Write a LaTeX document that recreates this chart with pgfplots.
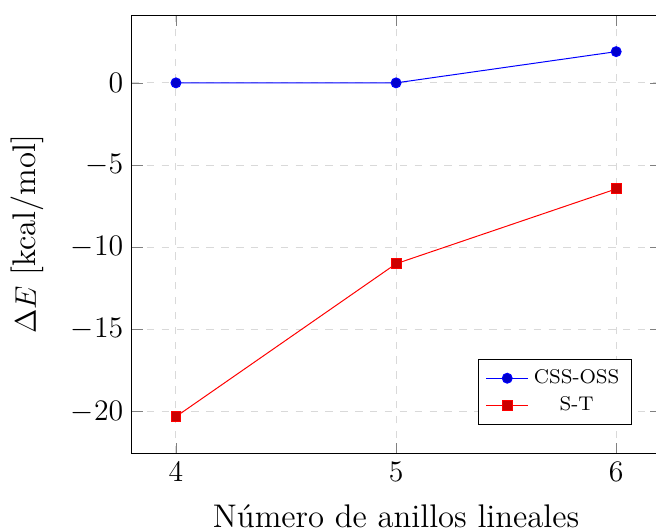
\documentclass[border=0pt]{standalone}
\usepackage{pgfplots}
\pgfplotsset{compat=1.18}
\begin{document}
\begin{tikzpicture}
\begin{axis}[
  scale only axis,
  width=213pt, height=176.6pt,
  xmin=3.8, xmax=6.2, ymin=-22.52, ymax=4.12,
  xtick={4,5,6}, ytick={-20,-15,-10,-5,0},
  grid=major,
  major grid style={dashed, gray!30},
  tick label style={font=\fontsize{13.2}{16}\selectfont},
  label style={font=\fontsize{13.2}{16}\selectfont},
  xlabel={Número de anillos lineales},
  ylabel={$\Delta E$ [kcal/mol]},
  xlabel shift=2.5pt,
  ylabel shift=4pt,
  legend style={at={(0.947,0.064)}, anchor=south east, font=\footnotesize},
  legend cell align=center,
]
\addplot coordinates {(4,0) (5,0) (6,1.9)};
\addlegendentry{CSS-OSS}
\addplot coordinates {(4,-20.3) (5,-11) (6,-6.45)};
\addlegendentry{S-T}
\end{axis}
\pgfresetboundingbox
\path[use as bounding box] (-53.2pt,-31.5pt) rectangle (211.3pt,182.7pt);
\end{tikzpicture}
\end{document}
